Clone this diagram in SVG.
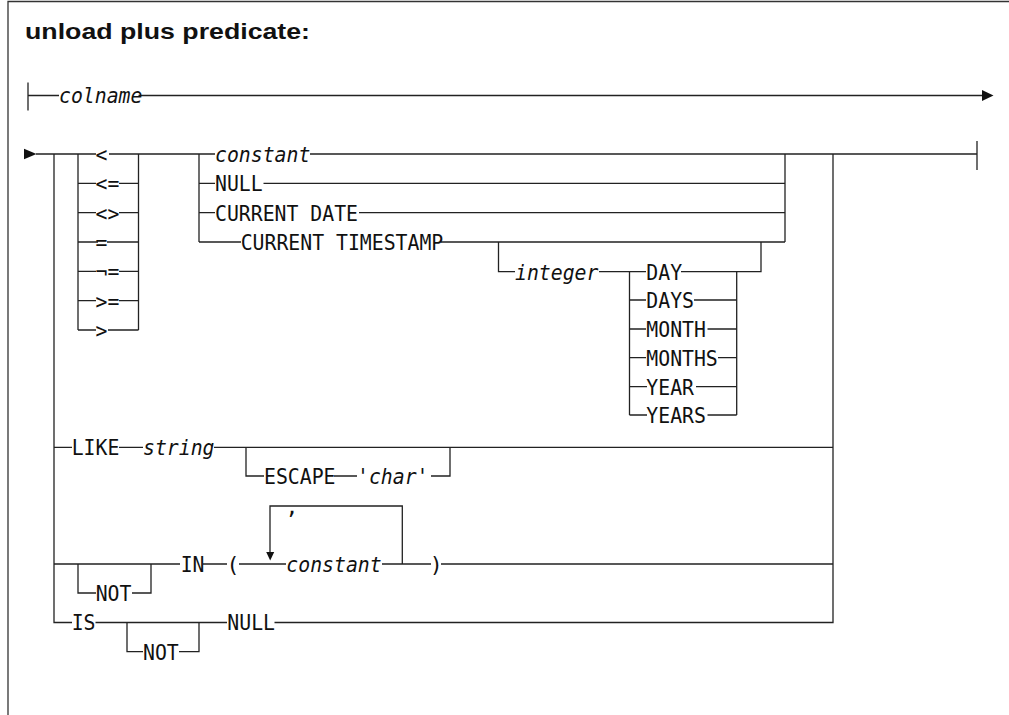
<svg xmlns="http://www.w3.org/2000/svg" width="1009" height="715" viewBox="0 0 1009 715">
<style>
.ln{fill:none;stroke:#222;stroke-width:1.3}
.frame{fill:none;stroke:#333;stroke-width:1.3}
.ah{fill:#111;stroke:none}
.t{font-family:"DejaVu Sans Mono","Liberation Mono",monospace;font-size:21.5px;fill:#111}
.i{font-style:italic}
.m{text-anchor:middle}
.title{font-family:"Liberation Sans",Arial,sans-serif;font-weight:bold;font-size:22px;fill:#111}
</style>
<rect width="1009" height="715" fill="#fff"/>
<path class="frame" d="M8,715 V1.5 H1009"/>
<text class="title" x="25" y="38.5" textLength="285" lengthAdjust="spacingAndGlyphs">unload plus predicate:</text>
<g id="connectors">
<path class="ln" d="M28,82.5 V110.5 M28,95.5 H59 M138.5,95.5 H982"/>
<polygon class="ah" points="982,90 982,101 993.5,95.5"/>
<polygon class="ah" points="24,148.8 24,159.2 36.5,154"/>
<path class="ln" d="M36,154 H96 M109,154 H215 M310,154 H977 M977,141 V170"/>
<path class="ln" d="M78,154 V330 M138.5,154 V330"/>
<path class="ln" d="M78,183.3 H96 M119,183.3 H138.5 M78,212.7 H96 M119,212.7 H138.5 M78,242 H98 M107,242 H138.5 M78,271.3 H96 M119,271.3 H138.5 M78,300.7 H96 M119,300.7 H138.5 M78,330 H96 M108,330 H138.5"/>
<path class="ln" d="M54,154 V622.5 H72 M95.5,622.5 H227 M274.5,622.5 H833 V154"/>
<path class="ln" d="M199,154 V242 M785,154 V242"/>
<path class="ln" d="M199,183.3 H215 M263.5,183.3 H785 M199,212.7 H215 M359,212.7 H785 M199,242 H241 M441,242 H785"/>
<path class="ln" d="M498.5,242 V271.7 H515 M599,271.7 H646 M681,271.7 H761 V242"/>
<path class="ln" d="M629.5,271.7 V415 M736.7,271.7 V415"/>
<path class="ln" d="M629.5,300 H646 M694,300 H736.7 M629.5,329 H646 M707.5,329 H736.7 M629.5,357.7 H646 M718,357.7 H736.7 M629.5,386.7 H647 M696,386.7 H736.7 M629.5,415 H647 M707.5,415 H736.7"/>
<path class="ln" d="M54,447.3 H72 M119,447.3 H143 M214,447.3 H833"/>
<path class="ln" d="M246,447.3 V476 H264 M334,476 H357 M431,476 H450 V447.3"/>
<path class="ln" d="M54,564 H180 M203,564 H227 M239,564 H286 M382,564 H431 M441,564 H833"/>
<path class="ln" d="M78,564 V593 H96 M132,593 H151 V564"/>
<path class="ln" d="M270,553 V506 H402.3 V564"/>
<polygon class="ah" points="266.2,552 274.2,552 270.2,560.5"/>
<path class="ln" d="M127,622.5 V651.7 H143 M179,651.7 H199 V622.5"/>
</g>
<g id="n-colname"><text class="t i" x="59" y="103.3" textLength="83.4" lengthAdjust="spacingAndGlyphs">colname</text></g>
<g id="n-lt"><text class="t" x="95.5" y="161.8" textLength="11.9" lengthAdjust="spacingAndGlyphs">&lt;</text></g>
<g id="n-le"><text class="t" x="95.5" y="191.1" textLength="23.8" lengthAdjust="spacingAndGlyphs">&lt;=</text></g>
<g id="n-ne"><text class="t" x="95.5" y="220.5" textLength="23.8" lengthAdjust="spacingAndGlyphs">&lt;&gt;</text></g>
<g id="n-eq"><text class="t" x="95.5" y="249.8" textLength="11.9" lengthAdjust="spacingAndGlyphs">=</text></g>
<g id="n-noteq"><text class="t" x="95.5" y="279.1" textLength="23.8" lengthAdjust="spacingAndGlyphs">¬=</text></g>
<g id="n-ge"><text class="t" x="95.5" y="308.5" textLength="23.8" lengthAdjust="spacingAndGlyphs">&gt;=</text></g>
<g id="n-gt"><text class="t" x="95.5" y="337.8" textLength="11.9" lengthAdjust="spacingAndGlyphs">&gt;</text></g>
<g id="n-constant"><text class="t i" x="215" y="161.8" textLength="95.4" lengthAdjust="spacingAndGlyphs">constant</text></g>
<g id="n-null"><text class="t" x="215" y="191.1" textLength="47.7" lengthAdjust="spacingAndGlyphs">NULL</text></g>
<g id="n-curdate"><text class="t" x="215" y="220.5" textLength="143" lengthAdjust="spacingAndGlyphs">CURRENT DATE</text></g>
<g id="n-curts"><text class="t" x="240.7" y="249.8" textLength="202.6" lengthAdjust="spacingAndGlyphs">CURRENT TIMESTAMP</text></g>
<g id="n-integer"><text class="t i" x="515" y="279.5" textLength="83.4" lengthAdjust="spacingAndGlyphs">integer</text></g>
<g id="n-day"><text class="t" x="646.3" y="279.5" textLength="35.8" lengthAdjust="spacingAndGlyphs">DAY</text></g>
<g id="n-days"><text class="t" x="646.3" y="307.8" textLength="47.7" lengthAdjust="spacingAndGlyphs">DAYS</text></g>
<g id="n-month"><text class="t" x="646.3" y="336.8" textLength="59.6" lengthAdjust="spacingAndGlyphs">MONTH</text></g>
<g id="n-months"><text class="t" x="646.3" y="365.5" textLength="71.5" lengthAdjust="spacingAndGlyphs">MONTHS</text></g>
<g id="n-year"><text class="t" x="646.3" y="394.5" textLength="47.7" lengthAdjust="spacingAndGlyphs">YEAR</text></g>
<g id="n-years"><text class="t" x="646.3" y="422.8" textLength="59.6" lengthAdjust="spacingAndGlyphs">YEARS</text></g>
<g id="n-like"><text class="t" x="71.7" y="455.1" textLength="47.7" lengthAdjust="spacingAndGlyphs">LIKE</text></g>
<g id="n-string"><text class="t i" x="143" y="455.1" textLength="71.5" lengthAdjust="spacingAndGlyphs">string</text></g>
<g id="n-escape"><text class="t" x="264" y="483.8" textLength="71.5" lengthAdjust="spacingAndGlyphs">ESCAPE</text></g>
<g id="n-char"><text class="t i" x="357" y="483.8" textLength="71.5" lengthAdjust="spacingAndGlyphs">'char'</text></g>
<g id="n-not1"><text class="t" x="95.7" y="600.8" textLength="35.8" lengthAdjust="spacingAndGlyphs">NOT</text></g>
<g id="n-in"><text class="t" x="180.7" y="571.8" textLength="23.8" lengthAdjust="spacingAndGlyphs">IN</text></g>
<g id="n-lparen"><text class="t m" x="233" y="571.8">(</text></g>
<g id="n-comma"><text class="t m" x="292" y="513.5">,</text></g>
<g id="n-constant2"><text class="t i" x="286.3" y="571.8" textLength="95.4" lengthAdjust="spacingAndGlyphs">constant</text></g>
<g id="n-rparen"><text class="t m" x="436.2" y="571.8">)</text></g>
<g id="n-is"><text class="t" x="71.7" y="630.3" textLength="23.8" lengthAdjust="spacingAndGlyphs">IS</text></g>
<g id="n-not2"><text class="t" x="143" y="659.5" textLength="35.8" lengthAdjust="spacingAndGlyphs">NOT</text></g>
<g id="n-null2"><text class="t" x="227.3" y="630.3" textLength="47.7" lengthAdjust="spacingAndGlyphs">NULL</text></g>
</svg>
